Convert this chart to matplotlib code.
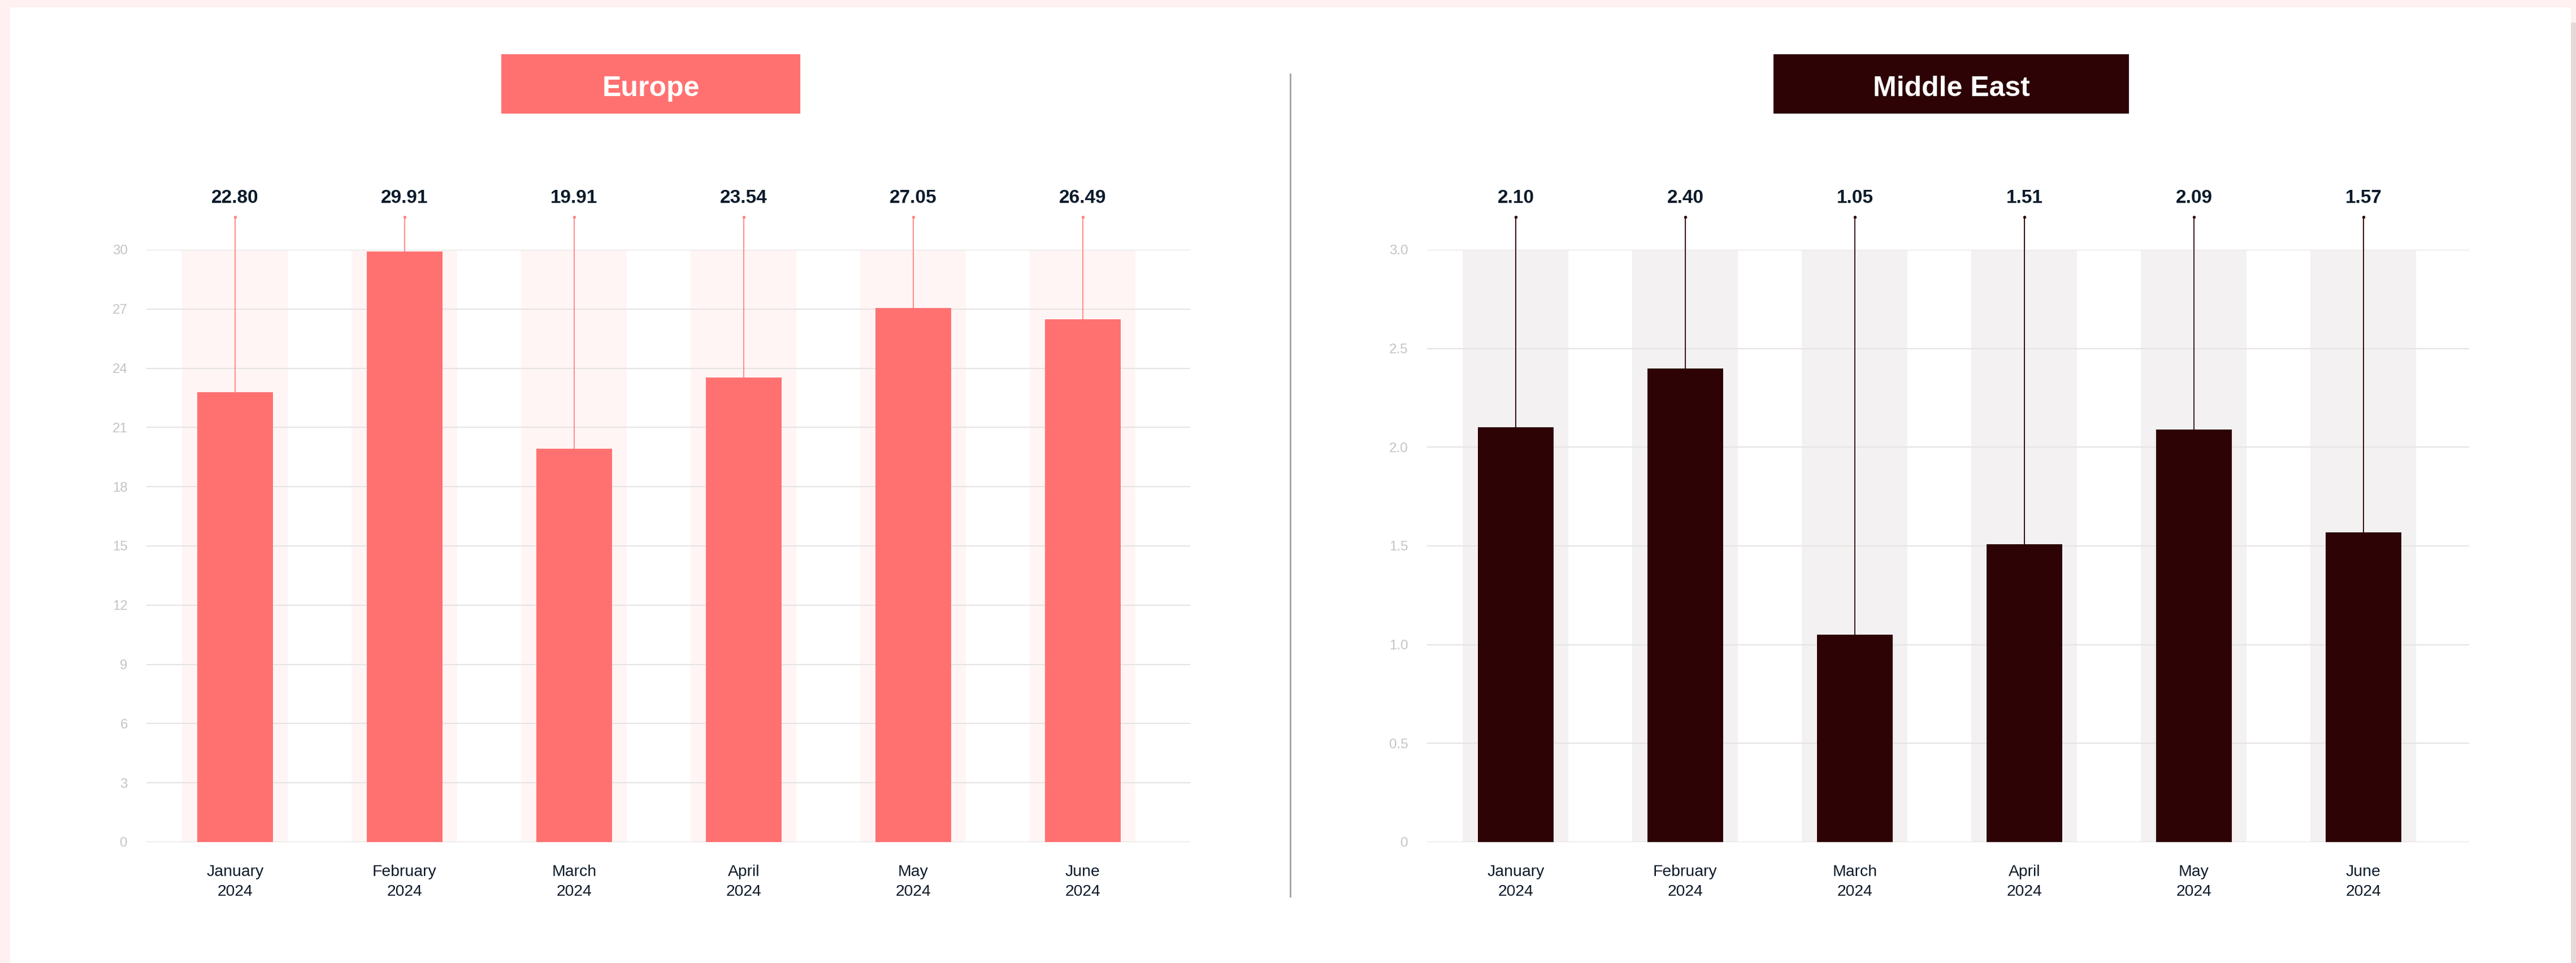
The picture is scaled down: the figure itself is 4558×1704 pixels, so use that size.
import numpy as np
import matplotlib
matplotlib.use("Agg")
import matplotlib.pyplot as plt
from matplotlib.patches import Rectangle

# Data
months = ["January\n2024", "February\n2024", "March\n2024",
          "April\n2024", "May\n2024", "June\n2024"]
europe = [22.80, 29.91, 19.91, 23.54, 27.05, 26.49]
middle_east = [2.10, 2.40, 1.05, 1.51, 2.09, 1.57]

europe_ticks = [0, 3, 6, 9, 12, 15, 18, 21, 24, 27, 30]
europe_ticklabels = [str(t) for t in europe_ticks]
me_ticks = [0, 0.5, 1.0, 1.5, 2.0, 2.5, 3.0]
me_ticklabels = ["0", "0.5", "1.0", "1.5", "2.0", "2.5", "3.0"]

# Styles
W, H = 4558, 1704
DPI = 300
PINK = "#ff7171"
PINK_BAND = "#fff5f5"
MAROON = "#2d0305"
GREY_BAND = "#f3f1f2"
GRID = "#e6e3e3"
TICK_COL = "#c4c4c4"
TEXT_DARK = "#0b1a2a"
NARROW = ["Liberation Sans Narrow", "Liberation Sans", "DejaVu Sans"]
REG = ["Liberation Sans", "DejaVu Sans"]

plt.rcParams["font.family"] = REG

fig = plt.figure(figsize=(W / DPI, H / DPI), dpi=DPI, facecolor="#fff1f1")

# white card + right shadow strip
fig.patches.append(Rectangle((18 / W, 0), (4549 - 18) / W, (H - 13) / H,
                             transform=fig.transFigure, facecolor="white",
                             edgecolor="none", zorder=-10))
fig.patches.append(Rectangle((4549 / W, 0), 9 / W, (H - 40) / H,
                             transform=fig.transFigure, facecolor="#e6d9d9",
                             edgecolor="none", zorder=-10))

# divider
fig.add_artist(plt.Line2D([2283 / W, 2283 / W], [1 - 1586 / H, 1 - 131 / H],
                          transform=fig.transFigure, color="#a3a7ab", lw=0.7))


def title_box(x0, x1, text, color):
    y0, y1 = 96, 201
    fig.patches.append(Rectangle((x0 / W, 1 - y1 / H), (x1 - x0) / W, (y1 - y0) / H,
                                 transform=fig.transFigure, facecolor=color,
                                 edgecolor="none", zorder=1))
    fig.text((x0 + x1) / 2 / W, 1 - (y0 + y1) / 2 / H - 0.005, text, color="white",
             fontsize=12, fontweight="bold", ha="center", va="center",
             family=NARROW, zorder=2)


title_box(887, 1416, "Europe", PINK)
title_box(3138, 3767, "Middle East", MAROON)


def panel(x_left, x_right, values, ticks, ticklabels, color, stem_color, band_color):
    ax = fig.add_axes([x_left / W, 214 / H, (x_right - x_left) / W, 1048 / H])
    ax.set_facecolor("none")
    x = np.arange(len(values))
    ymax = ticks[-1]
    ax.set_xlim(-0.523, -0.523 + (x_right - x_left) / 300)
    ax.set_ylim(0, ymax)
    ax.set_axisbelow(True)
    ax.bar(x, [ymax] * len(values), width=0.623, color=band_color, zorder=0.3)
    ax.bar(x, values, width=0.447, color=color, zorder=2)
    top = ymax * 1.0553
    for xi, v in zip(x, values):
        ax.plot([xi, xi], [v, top], color=stem_color, lw=0.45, zorder=3,
                clip_on=False, solid_capstyle="butt")
        ax.plot([xi], [top], "o", color=stem_color, ms=1.3, zorder=3,
                clip_on=False, markeredgewidth=0)
        ax.text(xi, ymax * 1.087, f"{v:.2f}", ha="center", va="center",
                fontsize=8, fontweight="bold", color=TEXT_DARK)
    ax.set_yticks(ticks)
    ax.set_yticklabels(ticklabels)
    ax.grid(axis="y", color=GRID, lw=0.5)
    ax.set_xticks(x)
    ax.set_xticklabels(months, linespacing=1.45)
    for lab in ax.get_xticklabels():
        lab.set_family(NARROW)
    ax.tick_params(axis="x", length=0, pad=9.5, labelsize=6.8, labelcolor=TEXT_DARK)
    ax.tick_params(axis="y", length=0, pad=8, labelsize=5.8, labelcolor=TICK_COL)
    for s in ax.spines.values():
        s.set_visible(False)
    return ax


panel(259, 2106, europe, europe_ticks, europe_ticklabels, PINK, "#ff8585", PINK_BAND)
panel(2525, 4369, middle_east, me_ticks, me_ticklabels, MAROON, MAROON, GREY_BAND)

fig.savefig("out.png", dpi=DPI, facecolor=fig.get_facecolor())
